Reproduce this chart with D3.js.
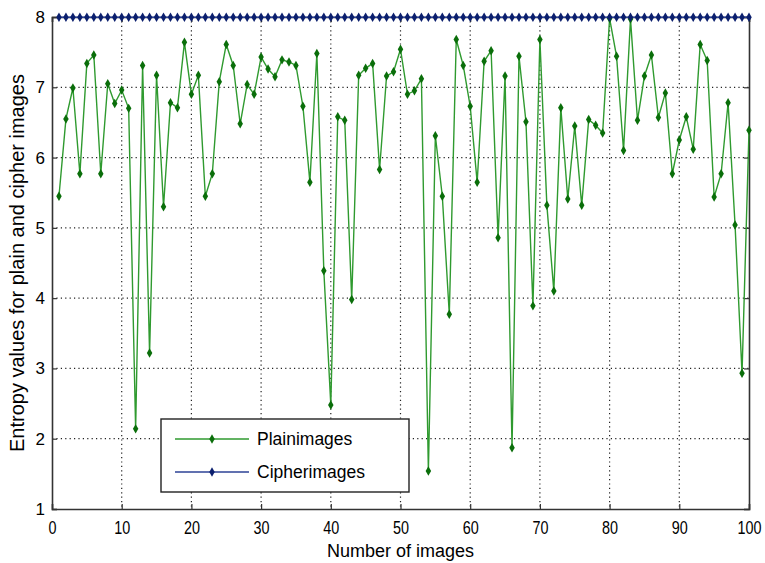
<!DOCTYPE html>
<html>
<head>
<meta charset="utf-8">
<script src="https://cdn.jsdelivr.net/npm/d3@7"></script>
<style>
  body { margin: 0; background: #fff; }
  text { font-family: "Liberation Sans", Arial, sans-serif; fill: #000; }
</style>
</head>
<body>
<div id="chart"></div>
<script>
// entropy of each test image, before and after encryption
var plainEntropy = [5.45, 6.55, 6.99, 5.77, 7.34, 7.46, 5.77, 7.05, 6.77, 6.96,
  6.70, 2.14, 7.31, 3.22, 7.17, 5.30, 6.78, 6.71, 7.64, 6.90,
  7.17, 5.45, 5.77, 7.08, 7.61, 7.31, 6.48, 7.04, 6.90, 7.43,
  7.26, 7.15, 7.39, 7.36, 7.31, 6.73, 5.65, 7.48, 4.39, 2.48,
  6.58, 6.53, 3.98, 7.17, 7.27, 7.34, 5.83, 7.16, 7.22, 7.54,
  6.90, 6.95, 7.12, 1.54, 6.31, 5.45, 3.77, 7.68, 7.31, 6.73,
  5.65, 7.37, 7.52, 4.86, 7.16, 1.87, 7.44, 6.51, 3.89, 7.68,
  5.32, 4.10, 6.71, 5.41, 6.45, 5.32, 6.54, 6.46, 6.35, 7.98,
  7.44, 6.10, 7.97, 6.53, 7.16, 7.46, 6.57, 6.92, 5.77, 6.25,
  6.58, 6.12, 7.61, 7.38, 5.44, 5.77, 6.78, 5.04, 2.93, 6.39];
var cipherEntropy = [7.997, 7.997, 7.997, 7.997, 7.997, 7.997, 7.997, 7.997, 7.997, 7.997,
  7.997, 7.997, 7.997, 7.997, 7.997, 7.997, 7.997, 7.997, 7.997, 7.997,
  7.997, 7.997, 7.997, 7.997, 7.997, 7.997, 7.997, 7.997, 7.997, 7.997,
  7.997, 7.997, 7.997, 7.997, 7.997, 7.997, 7.997, 7.997, 7.997, 7.997,
  7.997, 7.997, 7.997, 7.997, 7.997, 7.997, 7.997, 7.997, 7.997, 7.997,
  7.997, 7.997, 7.997, 7.997, 7.997, 7.997, 7.997, 7.997, 7.997, 7.997,
  7.997, 7.997, 7.997, 7.997, 7.997, 7.997, 7.997, 7.997, 7.997, 7.997,
  7.997, 7.997, 7.997, 7.997, 7.997, 7.997, 7.997, 7.997, 7.997, 7.997,
  7.997, 7.997, 7.997, 7.997, 7.997, 7.997, 7.997, 7.997, 7.997, 7.997,
  7.997, 7.997, 7.997, 7.997, 7.997, 7.997, 7.997, 7.997, 7.997, 7.997];
var imageIndex = d3.range(1, 101);

var xTicks = [0, 10, 20, 30, 40, 50, 60, 70, 80, 90, 100];
var yTicks = [1, 2, 3, 4, 5, 6, 7, 8];
var seriesNames = ["Plainimages", "Cipherimages"];

var width = 765, height = 563;
var margin = {top: 17, right: 16, bottom: 54, left: 52};
var plotW = width - margin.left - margin.right,
    plotH = height - margin.top - margin.bottom;

var x = d3.scaleLinear().domain([0, 100]).range([0, plotW]);
var y = d3.scaleLinear().domain([1, 8]).range([plotH, 0]);

var svg = d3.select("#chart").append("svg")
  .attr("width", width)
  .attr("height", height);

var g = svg.append("g")
  .attr("transform", "translate(" + margin.left + "," + margin.top + ")");

// dotted grid
g.selectAll(".vgrid").data(xTicks.slice(1, -1)).enter().append("line")
  .attr("x1", function(d) { return x(d); }).attr("x2", function(d) { return x(d); })
  .attr("y1", 0).attr("y2", plotH)
  .attr("stroke", "#222").attr("stroke-width", 1.2)
  .attr("stroke-dasharray", "1.2,3.2");
g.selectAll(".hgrid").data(yTicks.slice(1, -1)).enter().append("line")
  .attr("y1", function(d) { return y(d); }).attr("y2", function(d) { return y(d); })
  .attr("x1", 0).attr("x2", plotW)
  .attr("stroke", "#222").attr("stroke-width", 1.2)
  .attr("stroke-dasharray", "1.2,3.2");

// axes with inward ticks
var xAxis = g.append("g").attr("transform", "translate(0," + plotH + ")")
  .call(d3.axisBottom(x).tickValues(xTicks).tickSize(-5).tickPadding(12));
var yAxis = g.append("g")
  .call(d3.axisLeft(y).tickValues(yTicks).tickFormat(d3.format("d")).tickSize(-5).tickPadding(7));
var xTop = g.append("g")
  .call(d3.axisTop(x).tickValues(xTicks).tickSize(-5).tickFormat(""));
var yRight = g.append("g").attr("transform", "translate(" + plotW + ",0)")
  .call(d3.axisRight(y).tickValues(yTicks).tickSize(-5).tickFormat(""));

[xAxis, yAxis, xTop, yRight].forEach(function(a) {
  a.select(".domain").attr("stroke", "#333").attr("stroke-width", 1.6);
  a.selectAll(".tick line").attr("stroke", "#333").attr("stroke-width", 1.2);
  a.selectAll("text").attr("font-size", 17).attr("fill", "#000");
});
// narrow digits under the x axis
xAxis.selectAll(".tick text").attr("font-size", 18).attr("transform", "scale(0.8,1)");

// series
var seriesColors = [{line: "#2f9a2f", mark: "#0a6e0a"}, {line: "#2c4296", mark: "#0b1f6e"}];
var seriesData = [plainEntropy, cipherEntropy];

var line = d3.line()
  .x(function(d, i) { return x(imageIndex[i]); })
  .y(function(d) { return y(d); });

var diamond = d3.symbol().type(d3.symbolDiamond).size(26);

seriesData.forEach(function(vals, k) {
  g.append("path").datum(vals)
    .attr("d", line)
    .attr("fill", "none")
    .attr("stroke", seriesColors[k].line)
    .attr("stroke-width", 1.4);
  g.selectAll(".m" + k).data(vals).enter().append("path")
    .attr("d", diamond)
    .attr("transform", function(d, i) { return "translate(" + x(imageIndex[i]) + "," + y(d) + ")"; })
    .attr("fill", seriesColors[k].mark);
});

// legend
var leg = g.append("g").attr("transform", "translate(109,402)");
leg.append("rect")
  .attr("width", 248).attr("height", 73)
  .attr("fill", "#fff").attr("stroke", "#222").attr("stroke-width", 1.4);
seriesNames.forEach(function(name, k) {
  var ly = 20 + k * 33;
  leg.append("line").attr("x1", 14).attr("x2", 88).attr("y1", ly).attr("y2", ly)
    .attr("stroke", seriesColors[k].line).attr("stroke-width", 1.6);
  leg.append("path").attr("d", diamond)
    .attr("transform", "translate(51," + ly + ")")
    .attr("fill", seriesColors[k].mark);
  leg.append("text").attr("x", 96).attr("y", ly + 6)
    .attr("font-size", 17.5).text(name);
});

// axis titles
svg.append("text")
  .attr("x", margin.left + plotW / 2).attr("y", 557)
  .attr("text-anchor", "middle").attr("font-size", 18)
  .text("Number of images");
svg.append("text")
  .attr("transform", "translate(24," + (margin.top + plotH / 2) + ") rotate(-90)")
  .attr("text-anchor", "middle").attr("font-size", 20)
  .text("Entropy values for plain and cipher images");
</script>
</body>
</html>
